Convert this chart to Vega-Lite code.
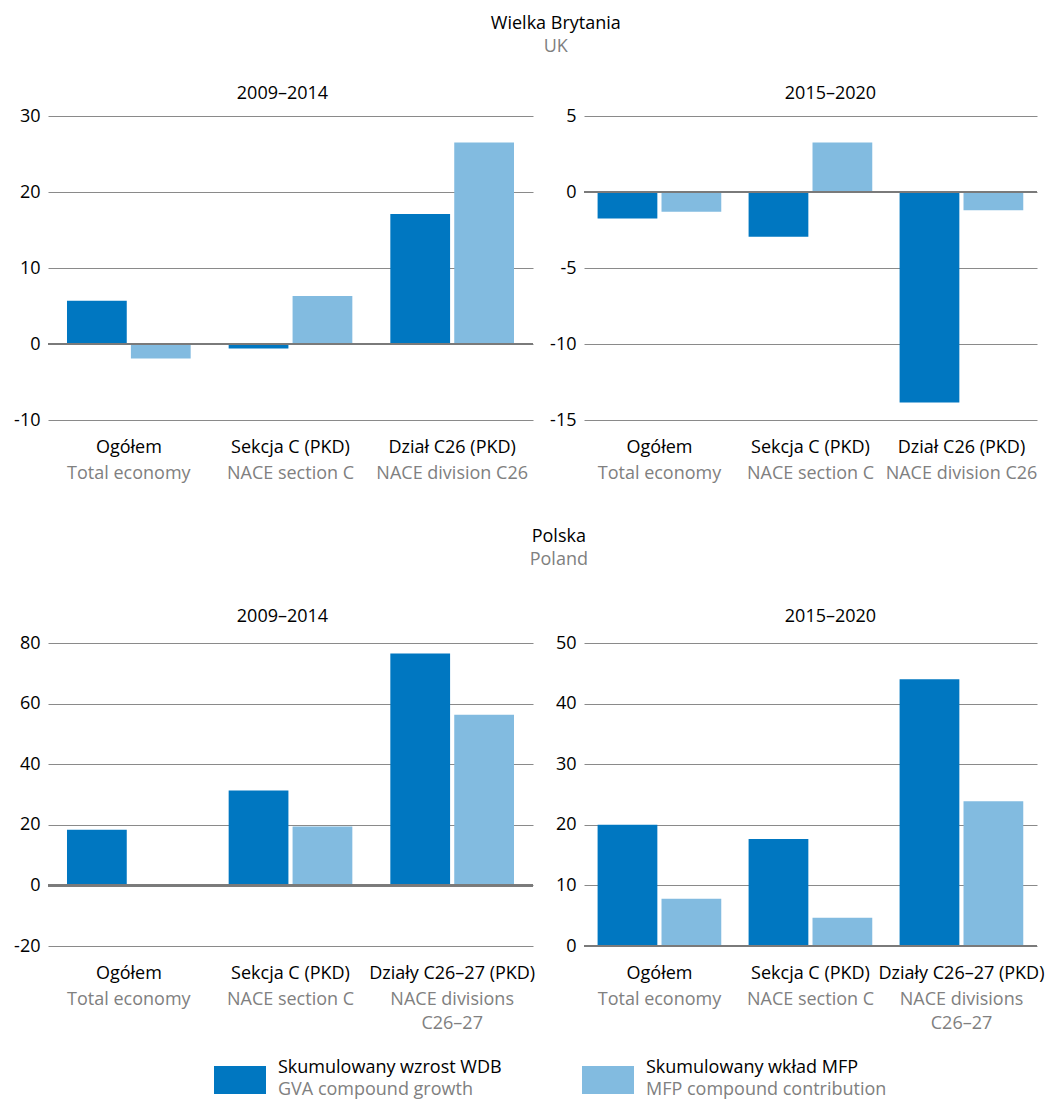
{
  "$schema": "https://vega.github.io/schema/vega-lite/v6.json",
  "padding": {"left": 13, "top": 15, "right": 0, "bottom": 0},
  "background": "white",
  "datasets": {
    "bars": [
      {"country": "UK", "period": "2009–2014", "cat": "Ogółem", "series": "GVA", "value": 5.7},
      {"country": "UK", "period": "2009–2014", "cat": "Ogółem", "series": "MFP", "value": -1.9},
      {"country": "UK", "period": "2009–2014", "cat": "Sekcja C (PKD)", "series": "GVA", "value": -0.6},
      {"country": "UK", "period": "2009–2014", "cat": "Sekcja C (PKD)", "series": "MFP", "value": 6.3},
      {"country": "UK", "period": "2009–2014", "cat": "Dział C26 (PKD)", "series": "GVA", "value": 17.1},
      {"country": "UK", "period": "2009–2014", "cat": "Dział C26 (PKD)", "series": "MFP", "value": 26.5},
      {"country": "UK", "period": "2015–2020", "cat": "Ogółem", "series": "GVA", "value": -1.75},
      {"country": "UK", "period": "2015–2020", "cat": "Ogółem", "series": "MFP", "value": -1.3},
      {"country": "UK", "period": "2015–2020", "cat": "Sekcja C (PKD)", "series": "GVA", "value": -2.95},
      {"country": "UK", "period": "2015–2020", "cat": "Sekcja C (PKD)", "series": "MFP", "value": 3.25},
      {"country": "UK", "period": "2015–2020", "cat": "Dział C26 (PKD)", "series": "GVA", "value": -13.85},
      {"country": "UK", "period": "2015–2020", "cat": "Dział C26 (PKD)", "series": "MFP", "value": -1.2},
      {"country": "PL", "period": "2009–2014", "cat": "Ogółem", "series": "GVA", "value": 18.4},
      {"country": "PL", "period": "2009–2014", "cat": "Ogółem", "series": "MFP", "value": -0.5},
      {"country": "PL", "period": "2009–2014", "cat": "Sekcja C (PKD)", "series": "GVA", "value": 31.3},
      {"country": "PL", "period": "2009–2014", "cat": "Sekcja C (PKD)", "series": "MFP", "value": 19.4},
      {"country": "PL", "period": "2009–2014", "cat": "Działy C26–27 (PKD)", "series": "GVA", "value": 76.5},
      {"country": "PL", "period": "2009–2014", "cat": "Działy C26–27 (PKD)", "series": "MFP", "value": 56.3},
      {"country": "PL", "period": "2015–2020", "cat": "Ogółem", "series": "GVA", "value": 20.0},
      {"country": "PL", "period": "2015–2020", "cat": "Ogółem", "series": "MFP", "value": 7.8},
      {"country": "PL", "period": "2015–2020", "cat": "Sekcja C (PKD)", "series": "GVA", "value": 17.65},
      {"country": "PL", "period": "2015–2020", "cat": "Sekcja C (PKD)", "series": "MFP", "value": 4.65},
      {"country": "PL", "period": "2015–2020", "cat": "Działy C26–27 (PKD)", "series": "GVA", "value": 44.0},
      {"country": "PL", "period": "2015–2020", "cat": "Działy C26–27 (PKD)", "series": "MFP", "value": 23.9}
    ],
    "legend": [
      {"series": "GVA", "pl": "Skumulowany wzrost WDB", "en": "GVA compound growth"},
      {"series": "MFP", "pl": "Skumulowany wkład MFP", "en": "MFP compound contribution"}
    ]
  },
  "spacing": 27,
  "vconcat": [
    {
      "spacing": 46,
      "vconcat": [
        {
          "title": {"text": "Wielka Brytania", "subtitle": "UK", "dx": 30, "offset": 29},
          "spacing": 15,
          "hconcat": [
            {
              "title": {"text": "2009–2014", "offset": 4, "dx": -8},
              "data": {"name": "bars"},
              "transform": [{"filter": "datum.country === 'UK' && datum.period === '2009–2014'"}],
              "width": 485, "height": 304,
              "layer": [
                {"mark": {"type": "bar"},
                 "encoding": {
                   "x": {"field": "cat", "type": "nominal", "sort": null, "scale": {"paddingInner": 0.235, "paddingOuter": 0.1175},
                         "axis": {"orient": "bottom", "title": null, "labelAngle": 0, "domain": false, "ticks": false, "grid": false, "labelPadding": 18, "labelColor": "#000000"}},
                   "xOffset": {"field": "series", "type": "nominal", "sort": ["GVA", "MFP"], "scale": {"paddingInner": 0.065}},
                   "y": {"field": "value", "type": "quantitative", "scale": {"domain": [-10, 30], "nice": false, "zero": false}, "axis": {"values": [-10, 0, 10, 20, 30], "title": null, "labelExpr": "replace(datum.label, '−', '-')"}},
                   "color": {"field": "series", "type": "nominal", "scale": {"domain": ["GVA", "MFP"], "range": ["#0077c1", "#82bbe0"]}, "legend": null}
                 }},
                {"mark": {"type": "bar", "opacity": 0},
                 "encoding": {
                   "x": {"field": "cat", "type": "nominal", "sort": null,
                         "axis": {"orient": "bottom", "title": null, "labelAngle": 0, "domain": false, "ticks": false, "grid": false, "labelPadding": 44, "labelColor": "#808080",
                                  "labelExpr": "datum.label === 'Ogółem' ? 'Total economy' : datum.label === 'Sekcja C (PKD)' ? 'NACE section C' : 'NACE division C26'"}},
                   "xOffset": {"field": "series", "type": "nominal", "sort": ["GVA", "MFP"]},
                   "y": {"field": "value", "type": "quantitative"}
                 }},
                {"mark": {"type": "rule", "color": "#7a7a7a", "strokeWidth": 2}, "encoding": {"y": {"datum": 0}}}
              ],
              "resolve": {"axis": {"x": "independent"}}
            },
            {
              "title": {"text": "2015–2020", "offset": 4, "dx": 20},
              "data": {"name": "bars"},
              "transform": [{"filter": "datum.country === 'UK' && datum.period === '2015–2020'"}],
              "width": 453, "height": 304,
              "layer": [
                {"mark": {"type": "bar"},
                 "encoding": {
                   "x": {"field": "cat", "type": "nominal", "sort": null, "scale": {"paddingInner": 0.18, "paddingOuter": 0.09},
                         "axis": {"orient": "bottom", "title": null, "labelAngle": 0, "domain": false, "ticks": false, "grid": false, "labelPadding": 18, "labelColor": "#000000"}},
                   "xOffset": {"field": "series", "type": "nominal", "sort": ["GVA", "MFP"], "scale": {"paddingInner": 0.065}},
                   "y": {"field": "value", "type": "quantitative", "scale": {"domain": [-15, 5], "nice": false, "zero": false}, "axis": {"values": [-15, -10, -5, 0, 5], "title": null, "labelExpr": "replace(datum.label, '−', '-')"}},
                   "color": {"field": "series", "type": "nominal", "scale": {"domain": ["GVA", "MFP"], "range": ["#0077c1", "#82bbe0"]}, "legend": null}
                 }},
                {"mark": {"type": "bar", "opacity": 0},
                 "encoding": {
                   "x": {"field": "cat", "type": "nominal", "sort": null,
                         "axis": {"orient": "bottom", "title": null, "labelAngle": 0, "domain": false, "ticks": false, "grid": false, "labelPadding": 44, "labelColor": "#808080",
                                  "labelExpr": "datum.label === 'Ogółem' ? 'Total economy' : datum.label === 'Sekcja C (PKD)' ? 'NACE section C' : 'NACE division C26'"}},
                   "xOffset": {"field": "series", "type": "nominal", "sort": ["GVA", "MFP"]},
                   "y": {"field": "value", "type": "quantitative"}
                 }},
                {"mark": {"type": "rule", "color": "#7a7a7a", "strokeWidth": 2}, "encoding": {"y": {"datum": 0}}}
              ],
              "resolve": {"axis": {"x": "independent"}}
            }
          ]
        },
        {
          "title": {"text": "Polska", "subtitle": "Poland", "dx": 30, "offset": 39},
          "spacing": 20,
          "hconcat": [
            {
              "title": {"text": "2009–2014", "offset": 8, "dx": -8},
              "data": {"name": "bars"},
              "transform": [{"filter": "datum.country === 'PL' && datum.period === '2009–2014'"}],
              "width": 485, "height": 303,
              "layer": [
                {"mark": {"type": "bar"},
                 "encoding": {
                   "x": {"field": "cat", "type": "nominal", "sort": null, "scale": {"paddingInner": 0.235, "paddingOuter": 0.1175},
                         "axis": {"orient": "bottom", "title": null, "labelAngle": 0, "domain": false, "ticks": false, "grid": false, "labelPadding": 18, "labelColor": "#000000"}},
                   "xOffset": {"field": "series", "type": "nominal", "sort": ["GVA", "MFP"], "scale": {"paddingInner": 0.065}},
                   "y": {"field": "value", "type": "quantitative", "scale": {"domain": [-20, 80], "nice": false, "zero": false}, "axis": {"values": [-20, 0, 20, 40, 60, 80], "title": null, "labelExpr": "replace(datum.label, '−', '-')"}},
                   "color": {"field": "series", "type": "nominal", "scale": {"domain": ["GVA", "MFP"], "range": ["#0077c1", "#82bbe0"]}, "legend": null}
                 }},
                {"mark": {"type": "bar", "opacity": 0},
                 "encoding": {
                   "x": {"field": "cat", "type": "nominal", "sort": null,
                         "axis": {"orient": "bottom", "title": null, "labelAngle": 0, "domain": false, "ticks": false, "grid": false, "labelPadding": 44, "labelColor": "#808080",
                                  "labelExpr": "datum.label === 'Ogółem' ? 'Total economy' : datum.label === 'Sekcja C (PKD)' ? 'NACE section C' : ['NACE divisions', 'C26–27']"}},
                   "xOffset": {"field": "series", "type": "nominal", "sort": ["GVA", "MFP"]},
                   "y": {"field": "value", "type": "quantitative"}
                 }},
                {"mark": {"type": "rule", "color": "#7a7a7a", "strokeWidth": 2}, "encoding": {"y": {"datum": 0}}}
              ],
              "resolve": {"axis": {"x": "independent"}}
            },
            {
              "title": {"text": "2015–2020", "offset": 8, "dx": 20},
              "data": {"name": "bars"},
              "transform": [{"filter": "datum.country === 'PL' && datum.period === '2015–2020'"}],
              "width": 453, "height": 303,
              "layer": [
                {"mark": {"type": "bar"},
                 "encoding": {
                   "x": {"field": "cat", "type": "nominal", "sort": null, "scale": {"paddingInner": 0.18, "paddingOuter": 0.09},
                         "axis": {"orient": "bottom", "title": null, "labelAngle": 0, "domain": false, "ticks": false, "grid": false, "labelPadding": 18, "labelColor": "#000000"}},
                   "xOffset": {"field": "series", "type": "nominal", "sort": ["GVA", "MFP"], "scale": {"paddingInner": 0.065}},
                   "y": {"field": "value", "type": "quantitative", "scale": {"domain": [0, 50], "nice": false, "zero": false}, "axis": {"values": [0, 10, 20, 30, 40, 50], "title": null}},
                   "color": {"field": "series", "type": "nominal", "scale": {"domain": ["GVA", "MFP"], "range": ["#0077c1", "#82bbe0"]}, "legend": null}
                 }},
                {"mark": {"type": "bar", "opacity": 0},
                 "encoding": {
                   "x": {"field": "cat", "type": "nominal", "sort": null,
                         "axis": {"orient": "bottom", "title": null, "labelAngle": 0, "domain": false, "ticks": false, "grid": false, "labelPadding": 44, "labelColor": "#808080",
                                  "labelExpr": "datum.label === 'Ogółem' ? 'Total economy' : datum.label === 'Sekcja C (PKD)' ? 'NACE section C' : ['NACE divisions', 'C26–27']"}},
                   "xOffset": {"field": "series", "type": "nominal", "sort": ["GVA", "MFP"]},
                   "y": {"field": "value", "type": "quantitative"}
                 }},
                {"mark": {"type": "rule", "color": "#7a7a7a", "strokeWidth": 2}, "encoding": {"y": {"datum": 0}}}
              ],
              "resolve": {"axis": {"x": "independent"}}
            }
          ]
        }
      ]
    },
    {
      "data": {"name": "legend"},
      "width": 1040, "height": 8,
      "encoding": {
        "x": {"field": "series", "type": "nominal", "scale": {"type": "point", "domain": ["GVA", "MFP"], "range": [192, 560], "padding": 0}, "axis": null}
      },
      "layer": [
        {"mark": {"type": "point", "shape": "M-1,-0.54H1V0.54H-1Z", "filled": true, "size": 2704, "opacity": 1},
         "encoding": {"color": {"field": "series", "type": "nominal", "scale": {"domain": ["GVA", "MFP"], "range": ["#0077c1", "#82bbe0"]}, "legend": null}}},
        {"mark": {"type": "text", "align": "left", "baseline": "middle", "dx": 38, "dy": -12, "fontSize": 18, "color": "#000000"},
         "encoding": {"text": {"field": "pl"}}},
        {"mark": {"type": "text", "align": "left", "baseline": "middle", "dx": 38, "dy": 10, "fontSize": 18, "color": "#808080"},
         "encoding": {"text": {"field": "en"}}}
      ]
    }
  ],
  "config": {
    "font": "Open Sans",
    "view": {"stroke": null},
    "axis": {"labelFontSize": 18, "labelColor": "#000000", "labelLineHeight": 24},
    "axisY": {"grid": true, "gridColor": "#8a8a8a", "gridWidth": 1, "domain": false, "ticks": false, "labelPadding": 8, "labelColor": "#000000"},
    "title": {"fontSize": 18, "fontWeight": "normal", "color": "#000000", "subtitleFontSize": 18, "subtitleColor": "#808080", "subtitlePadding": 5, "anchor": "middle"}
  }
}
